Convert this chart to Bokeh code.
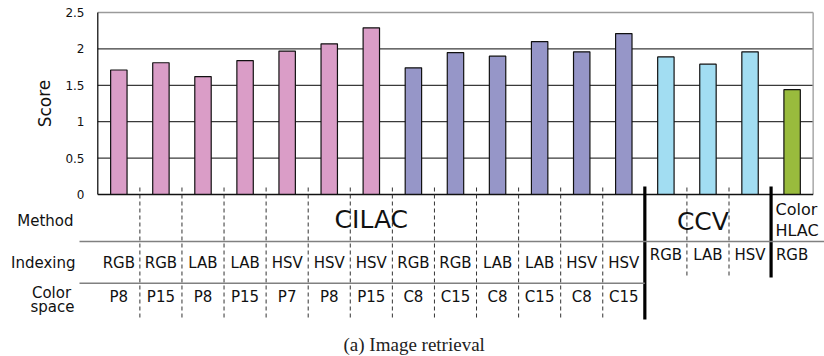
from bokeh.plotting import figure
from bokeh.models import Range1d, ColumnDataSource
from bokeh.embed import file_html
from bokeh.resources import INLINE
from bokeh.core.properties import value

# ---------------- data ----------------
indexing = ["RGB", "RGB", "LAB", "LAB", "HSV", "HSV", "HSV", "RGB", "RGB", "LAB",
            "LAB", "HSV", "HSV", "RGB", "LAB", "HSV", "RGB"]
color_space = ["P8", "P15", "P8", "P15", "P7", "P8", "P15", "C8", "C15", "C8",
               "C15", "C8", "C15"]
methods = ["CILAC", "CCV", "Color HLAC"]
method_sizes = [13, 3, 1]
scores = [1.71, 1.81, 1.62, 1.84, 1.97, 2.07, 2.29, 1.74, 1.95, 1.90,
          2.10, 1.96, 2.21, 1.89, 1.79, 1.96, 1.44]
y_ticks = [0, 0.5, 1, 1.5, 2, 2.5]
y_tick_labels = ["0", "0.5", "1", "1.5", "2", "2.5"]
caption = "(a) Image retrieval"

# ---------------- geometry (styles) ----------------
W, H = 824, 356
OFF = 0          # page offset of the figure
LEFT = 97.3      # figure px of plot-area left edge
UX = 42.08       # px per category
ZERO = 194.0     # figure px (from top) of score 0
UY = 72.8        # px per score unit


def px(page_x):
    return (page_x - OFF - LEFT) / UX


def py(page_y):
    return (ZERO - (page_y - OFF)) / UY


n = len(scores)
p = figure(width=W, height=H, output_backend="svg", toolbar_location=None,
           x_range=Range1d(-LEFT / UX, (W - LEFT) / UX),
           y_range=Range1d(-(H - ZERO) / UY, ZERO / UY),
           min_border=0, outline_line_color=None)
p.xaxis.visible = False
p.yaxis.visible = False
p.grid.visible = False
p.background_fill_color = "white"
p.border_fill_color = "white"

FONT = value("DejaVu Sans")

# grid lines
inner = [t for t in y_ticks if 0 < t < max(y_ticks)]
p.segment(x0=[0] * len(inner), x1=[n] * len(inner), y0=inner, y1=inner,
          line_color="#3a3a3a", line_width=1.2)
top = max(y_ticks)
p.segment(x0=[0], x1=[n], y0=[top], y1=[top], line_color="#9a9a9a", line_width=1.5)
p.segment(x0=[n], x1=[n], y0=[0], y1=[top], line_color="#a8a8a8", line_width=1.5)
p.segment(x0=[0], x1=[0], y0=[0], y1=[top], line_color="black", line_width=1.2)

# bar colours
bar_colors = []
for i in range(n):
    if i < 13:
        bar_colors.append("#DA9DC7" if color_space[i].startswith("P") else "#9696C8")
    elif i < 16:
        bar_colors.append("#A2DDF2")
    else:
        bar_colors.append("#99BB3D")

src = ColumnDataSource(dict(x=[i + 0.5 for i in range(n)], top=scores, color=bar_colors))
p.vbar(x="x", top="top", bottom=0, width=0.39, source=src, fill_color="color",
       line_color="#111111", line_width=1.2)
p.segment(x0=[0], x1=[n], y0=[0], y1=[0], line_color="#111111", line_width=1.5)

# tick labels
p.text(x=[px(84)] * len(y_ticks), y=y_ticks, text=y_tick_labels, text_font=FONT,
       text_font_size="12px", text_align="right", text_baseline="middle",
       text_color="#111111")
p.text(x=[px(44)], y=[1.25], text=["Score"], angle=1.5708, text_font=FONT,
       text_font_size="17px", text_align="center", text_baseline="middle",
       text_color="#111111")

# table dividers
n_cilac = method_sizes[0]
dash_k = [k for k in range(1, n_cilac)]
p.segment(x0=dash_k, x1=dash_k, y0=[py(187)] * len(dash_k), y1=[py(318)] * len(dash_k),
          line_color="#333333", line_width=1, line_dash="4 3")
dash_k2 = [k for k in range(n_cilac + 1, n_cilac + method_sizes[1])]
p.segment(x0=dash_k2, x1=dash_k2, y0=[py(187)] * len(dash_k2), y1=[py(275)] * len(dash_k2),
          line_color="#333333", line_width=1, line_dash="4 3")
k1 = n_cilac
k2 = n_cilac + method_sizes[1]
p.segment(x0=[k1], x1=[k1], y0=[py(186)], y1=[py(319)], line_color="black", line_width=3.2)
p.segment(x0=[k2], x1=[k2], y0=[py(186)], y1=[py(277)], line_color="black", line_width=3.2)

# horizontal table rules
p.segment(x0=[px(79)], x1=[px(830)], y0=[py(241)], y1=[py(241)],
          line_color="#808080", line_width=1.5)
p.segment(x0=[px(79)], x1=[k1], y0=[py(282.7)], y1=[py(282.7)],
          line_color="#808080", line_width=1.5)

# row labels
p.text(x=[px(73)], y=[py(220)], text=["Method"], text_font=FONT, text_font_size="15px",
       text_align="right", text_baseline="middle", text_color="#111111")
p.text(x=[px(75)], y=[py(262.5)], text=["Indexing"], text_font=FONT, text_font_size="15px",
       text_align="right", text_baseline="middle", text_color="#111111")
p.text(x=[px(51), px(52)], y=[py(292.5), py(306.5)], text=["Color", "space"], text_font=FONT,
       text_font_size="15px", text_align="center", text_baseline="middle",
       text_color="#111111")

# indexing row
cil_x = [i + 0.5 for i in range(n_cilac)]
p.text(x=cil_x, y=[py(262.5)] * n_cilac, text=indexing[:n_cilac], text_font=FONT,
       text_font_size="15px", text_align="center", text_baseline="middle",
       text_color="#111111")
rest_x = [i + 0.5 for i in range(n_cilac, n)]
p.text(x=rest_x, y=[py(254)] * len(rest_x), text=indexing[n_cilac:], text_font=FONT,
       text_font_size="15px", text_align="center", text_baseline="middle",
       text_color="#111111")
# colour space row
p.text(x=cil_x, y=[py(296)] * n_cilac, text=color_space, text_font=FONT,
       text_font_size="15px", text_align="center", text_baseline="middle",
       text_color="#111111")

# method names
p.text(x=[n_cilac / 2], y=[py(219)], text=[methods[0]], text_font=FONT,
       text_font_size="25px", text_align="center", text_baseline="middle",
       text_color="#111111")
p.text(x=[(k1 + k2) / 2 - 0.12], y=[py(220.5)], text=[methods[1]], text_font=FONT,
       text_font_size="25px", text_align="center", text_baseline="middle",
       text_color="#111111")
hl = methods[2].split(" ")
p.text(x=[px(775), px(775)], y=[py(209), py(230)], text=hl, text_font=FONT,
       text_font_size="16px", text_align="left", text_baseline="middle",
       text_color="#111111")

# caption
p.text(x=[px(413.7)], y=[py(344)], text=[caption], text_font=value("Liberation Serif"),
       text_font_size="19px", text_align="center", text_baseline="alphabetic",
       text_color="#222222")

open("out.html", "w").write(file_html(p, INLINE))
